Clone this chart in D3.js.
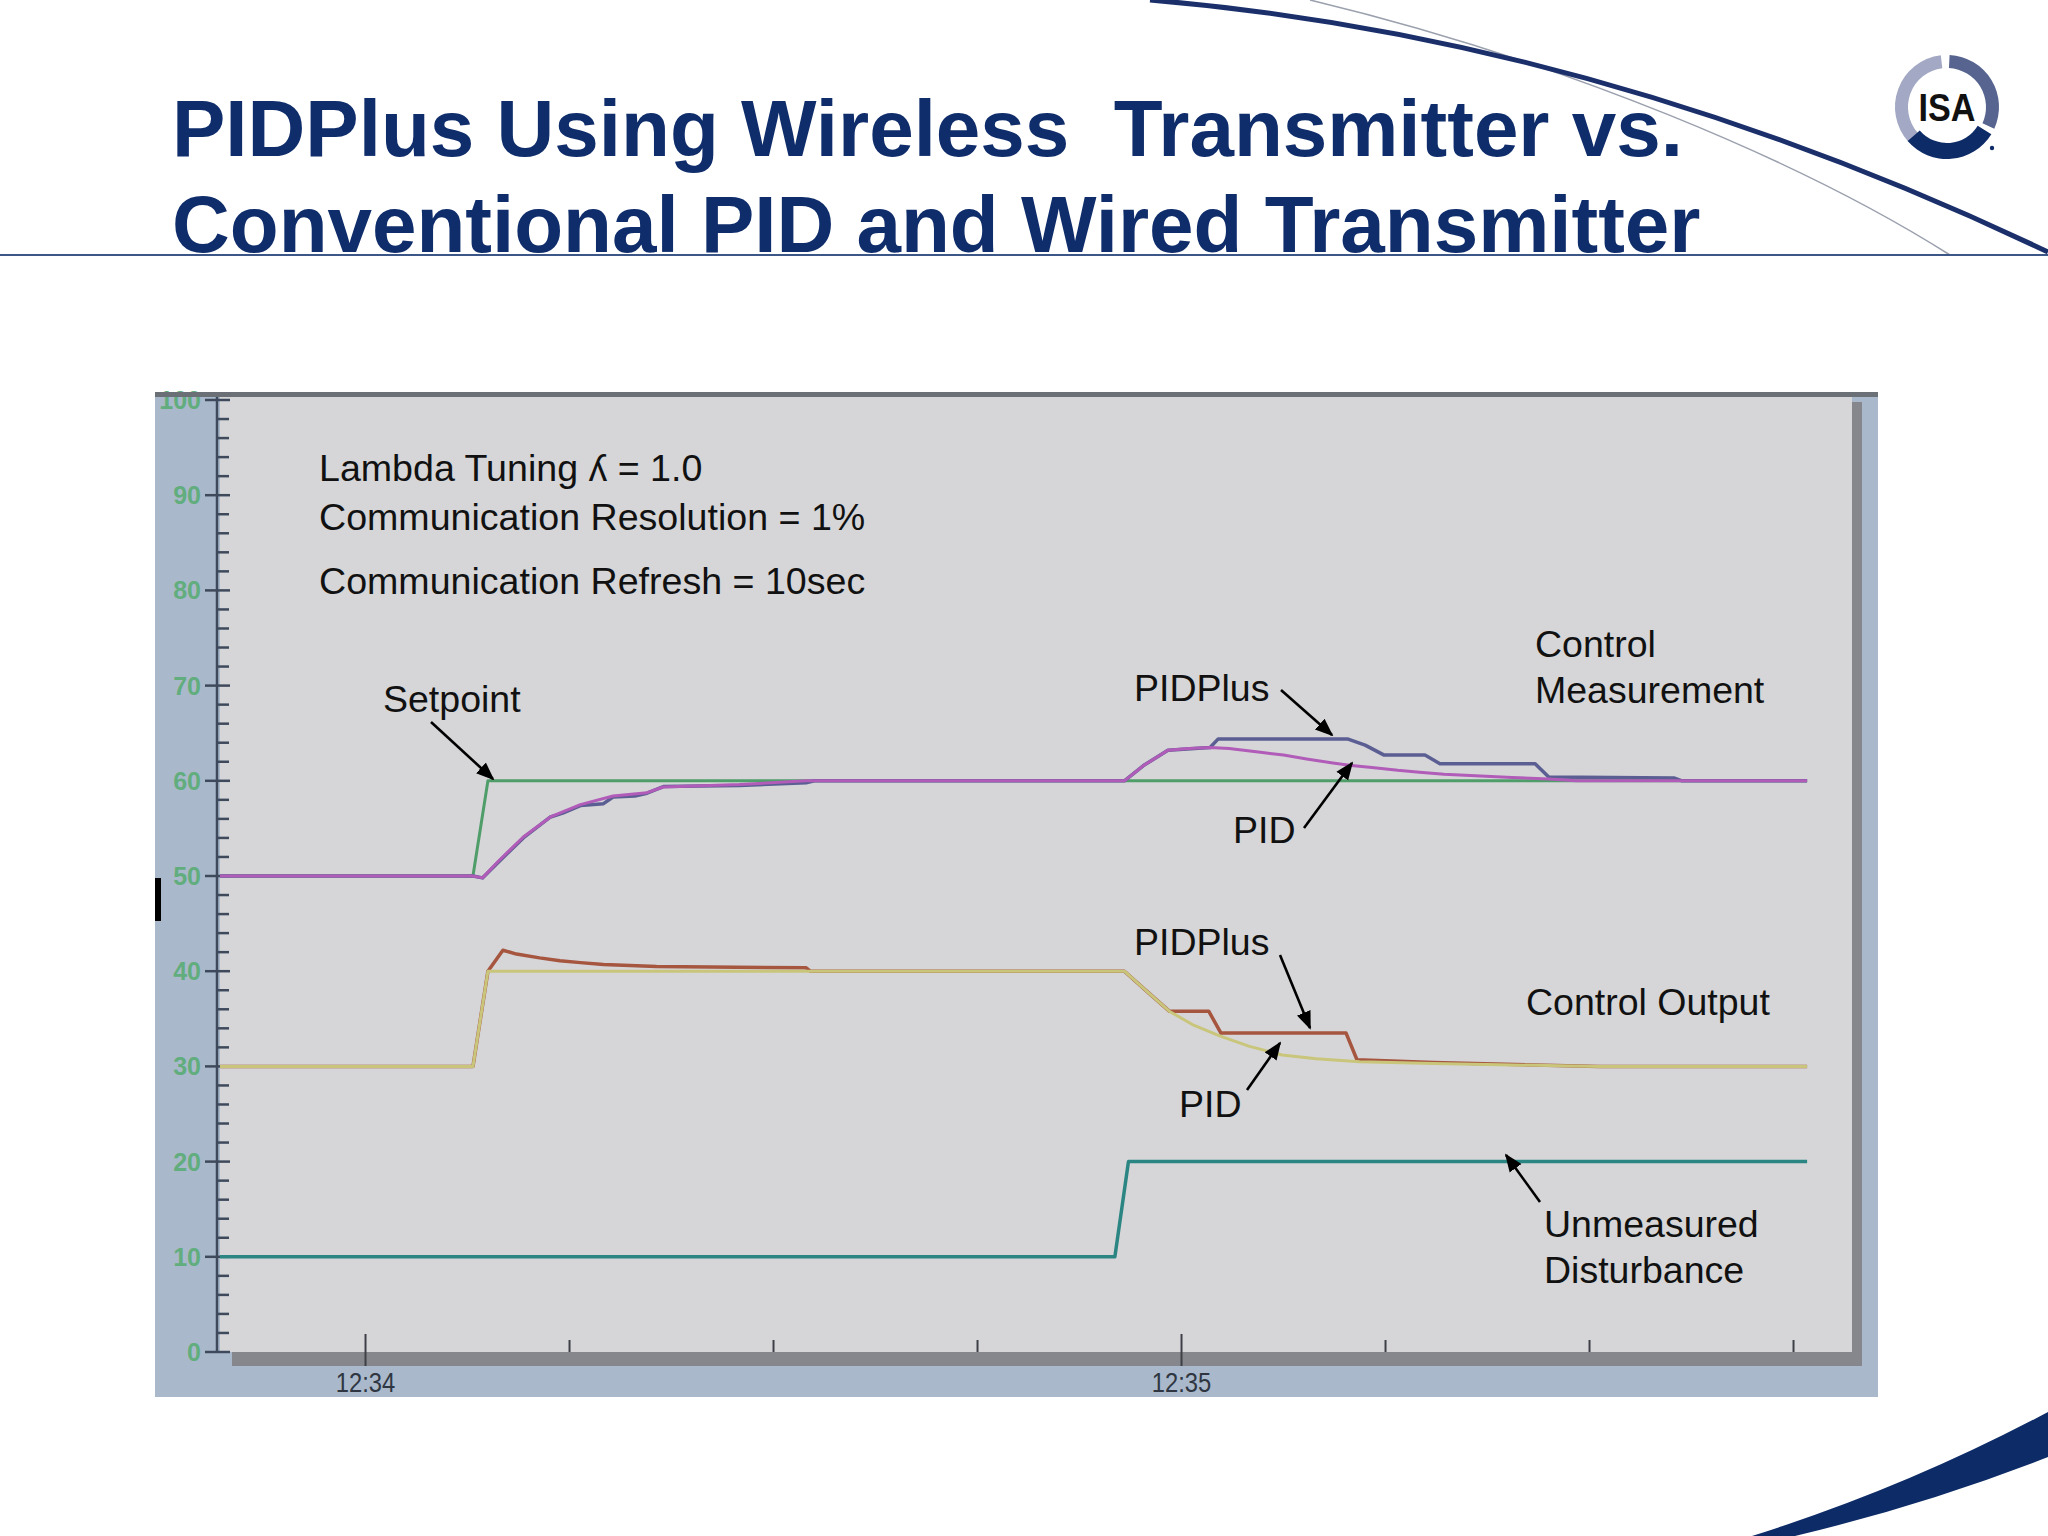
<!DOCTYPE html>
<html><head><meta charset="utf-8">
<script src="https://cdn.jsdelivr.net/npm/d3@7"></script>
<style>html,body{margin:0;padding:0;background:#fff;}svg{display:block;}</style>
</head><body>
<svg id="c" width="2048" height="1536"></svg>
<script>
// ---- data (time in seconds after 12:34:00, values in %) ----
const setpointT = [-10.7, 7.9, 9.0, 106];
const setpointV = [50, 50, 60, 60];

const pvPidT = [-10.7, 7.9, 8.6, 9.8, 11.6, 13.6, 15.8, 18.2, 20.7, 21.9, 27.5, 32.4, 55.8, 57.2, 59.0, 60.5, 62.1, 63.5, 65.8, 67.5, 69.2, 71.0, 72.5, 74.0, 75.9, 77.5, 79.3, 82.0, 84.3, 87.0, 89.0, 106];
const pvPidV = [50, 50, 49.8, 51.6, 54.1, 56.2, 57.5, 58.4, 58.75, 59.35, 59.6, 60, 60, 61.6, 63.2, 63.4, 63.5, 63.4, 63.0, 62.7, 62.3, 61.9, 61.6, 61.4, 61.1, 60.9, 60.7, 60.5, 60.35, 60.2, 60, 60];

const pvPlusT = [-10.7, 7.9, 8.6, 9.8, 11.6, 13.6, 14.5, 15.8, 17.5, 18.2, 19.8, 20.7, 21.9, 27.5, 32.4, 33.0, 55.8, 57.2, 59.0, 62.1, 62.7, 72.2, 73.5, 74.9, 77.9, 79.0, 86.0, 87.0, 96.2, 96.8, 106];
const pvPlusV = [50, 50, 49.8, 51.5, 54.0, 56.2, 56.6, 57.4, 57.6, 58.3, 58.4, 58.7, 59.4, 59.5, 59.8, 60, 60, 61.6, 63.2, 63.5, 64.4, 64.4, 63.75, 62.7, 62.7, 61.8, 61.8, 60.4, 60.3, 60, 60];

const opPidT = [-10.7, 7.9, 9.0, 55.8, 57.6, 59.1, 60.8, 62.8, 65.0, 67.4, 69.9, 73.1, 78.5, 90.7, 106];
const opPidV = [30, 30, 40, 40, 37.7, 35.8, 34.4, 33.2, 32.1, 31.2, 30.8, 30.5, 30.3, 30, 30];

const opPlusT = [-10.7, 7.9, 9.0, 10.1, 11.1, 12.8, 14.3, 15.8, 17.5, 21.4, 32.4, 32.7, 55.8, 57.6, 59.1, 62.0, 62.9, 72.1, 72.9, 78.5, 90.7, 106];
const opPlusV = [30, 30, 40, 42.2, 41.8, 41.4, 41.1, 40.9, 40.7, 40.5, 40.35, 40, 40, 37.7, 35.8, 35.8, 33.5, 33.5, 30.7, 30.4, 30, 30];

const distT = [-10.7, 55.1, 56.1, 106];
const distV = [10, 10, 20, 20];

const yTickValues = [0, 10, 20, 30, 40, 50, 60, 70, 80, 90, 100];
const xTickSeconds = [0, 15, 30, 45, 60, 75, 90, 105];
const xTickLabels = {0: "12:34", 60: "12:35"};

const titleLines = ["PIDPlus Using Wireless  Transmitter vs.", "Conventional PID and Wired Transmitter"];
const infoLines = ["Lambda Tuning \u028E = 1.0", "Communication Resolution = 1%", "Communication Refresh = 10sec"];

// ---- drawing ----
const svg = d3.select("#c");
const W = 2048, H = 1536;
const plot = {x0: 220, x1: 1852, y0: 397, y1: 1352};
const x = d3.scaleLinear().domain([-10.7, 109.3]).range([plot.x0, plot.x1]);
const y = d3.scaleLinear().domain([0, 100]).range([1352, 400]);

svg.append("rect").attr("width", W).attr("height", H).attr("fill", "#ffffff");

// decorative swooshes
svg.append("path").attr("d", "M1310,0 C1560,60 1800,160 1950,255").attr("fill", "none").attr("stroke", "#9aa0ad").attr("stroke-width", 1.5);
svg.append("path").attr("d", "M1150,0 C1450,25 1750,110 2048,252").attr("fill", "none").attr("stroke", "#1b2f6b").attr("stroke-width", 5);
svg.append("line").attr("x1", 0).attr("x2", W).attr("y1", 255).attr("y2", 255).attr("stroke", "#3d5688").attr("stroke-width", 2);
svg.append("path").attr("d", "M1752,1536 Q1905,1488 2048,1412 L2048,1457 Q1925,1505 1795,1536 Z").attr("fill", "#0d2b66");

// ISA logo
const logo = svg.append("g").attr("transform", "translate(1947,107)");
const arc = d3.arc();
logo.append("path").attr("d", arc({innerRadius: 39, outerRadius: 52, startAngle: -2.3, endAngle: -0.12})).attr("fill", "#a3a9c4");
logo.append("path").attr("d", arc({innerRadius: 39, outerRadius: 52, startAngle: 0.05, endAngle: 2.0})).attr("fill", "#56648f");
logo.append("path").attr("d", arc({innerRadius: 36, outerRadius: 52, startAngle: 2.12, endAngle: 4.0})).attr("fill", "#0d2b66");
logo.append("text").attr("x", 0).attr("y", 14).attr("text-anchor", "middle")
  .attr("font-family", "Liberation Sans, Arial, sans-serif").attr("font-weight", "bold").attr("font-size", 38)
  .attr("fill", "#111").attr("transform", "scale(0.9,1)").text("ISA");
logo.append("circle").attr("cx", 45).attr("cy", 41).attr("r", 2.2).attr("fill", "#0d2b66");

// title
svg.append("g").selectAll("text").data(titleLines).join("text")
  .attr("x", 172).attr("y", (d, i) => 156 + i * 96)
  .attr("font-family", "Liberation Sans, Arial, sans-serif").attr("font-weight", "bold").attr("font-size", 80)
  .attr("fill", "#0f2d6b").attr("xml:space", "preserve").style("white-space", "pre").text(d => d);

// panel
svg.append("rect").attr("x", 155).attr("y", 392).attr("width", 1878 - 155).attr("height", 1397 - 392).attr("fill", "#a9b9cb");
svg.append("rect").attr("x", 232).attr("y", 1352).attr("width", 1862 - 232).attr("height", 14).attr("fill", "#85878c");
svg.append("rect").attr("x", 1852).attr("y", 402).attr("width", 10).attr("height", 1366 - 402).attr("fill", "#85878c");
svg.append("rect").attr("x", plot.x0).attr("y", plot.y0).attr("width", plot.x1 - plot.x0).attr("height", plot.y1 - plot.y0).attr("fill", "#d6d6d8");
svg.append("rect").attr("x", 155).attr("y", 878).attr("width", 6).attr("height", 43).attr("fill", "#000");

// y axis
const yAxisG = svg.append("g").attr("transform", "translate(217,0)");
yAxisG.append("line").attr("x1", 0).attr("x2", 0).attr("y1", 397).attr("y2", 1352).attr("stroke", "#3e4a5c").attr("stroke-width", 2.5);
const minorY = d3.range(0, 101, 2).filter(v => v % 10 !== 0);
yAxisG.selectAll("line.minor").data(minorY).join("line").attr("class", "minor")
  .attr("x1", 1).attr("x2", 12).attr("y1", d => y(d)).attr("y2", d => y(d)).attr("stroke", "#3e4a5c").attr("stroke-width", 2.5);
yAxisG.selectAll("line.major").data(yTickValues).join("line").attr("class", "major")
  .attr("x1", -12).attr("x2", 13).attr("y1", d => y(d)).attr("y2", d => y(d)).attr("stroke", "#3e4a5c").attr("stroke-width", 2.5);
yAxisG.selectAll("text").data(yTickValues).join("text")
  .attr("x", -16).attr("y", d => y(d) + 9).attr("text-anchor", "end")
  .attr("font-family", "Liberation Sans, Arial, sans-serif").attr("font-size", 25).attr("font-weight", "bold")
  .attr("fill", "#62ad7e").text(d => d);

// x axis
const xAxisG = svg.append("g");
xAxisG.selectAll("line").data(xTickSeconds).join("line")
  .attr("x1", d => x(d)).attr("x2", d => x(d))
  .attr("y1", d => (d % 60 === 0 ? 1334 : 1340)).attr("y2", d => (d % 60 === 0 ? 1366 : 1352))
  .attr("stroke", "#3e4048").attr("stroke-width", 2);
xAxisG.selectAll("text").data(xTickSeconds.filter(d => xTickLabels[d])).join("text")
  .attr("transform", d => `translate(${x(d)},1392) scale(0.85,1)`).attr("text-anchor", "middle")
  .attr("font-family", "Liberation Sans, Arial, sans-serif").attr("font-size", 28)
  .attr("fill", "#2f3642").text(d => xTickLabels[d]);

// top border over the panel
svg.append("rect").attr("x", 155).attr("y", 392).attr("width", 1878 - 155).attr("height", 5).attr("fill", "#6b6f76");

// series
const line = d3.line().x(d => x(d[0])).y(d => y(d[1]));
const zip = (a, b) => a.map((t, i) => [t, b[i]]);
const series = [
  {t: distT, v: distV, c: "#2b8683", w: 3.5},
  {t: opPlusT, v: opPlusV, c: "#a6553f", w: 3.5},
  {t: opPidT, v: opPidV, c: "#c9c67c", w: 3},
  {t: setpointT, v: setpointV, c: "#4f9d69", w: 3},
  {t: pvPlusT, v: pvPlusV, c: "#5b5e93", w: 3.5},
  {t: pvPidT, v: pvPidV, c: "#b05cb8", w: 3}
];
svg.append("g").selectAll("path").data(series).join("path")
  .attr("d", d => line(zip(d.t, d.v))).attr("fill", "none")
  .attr("stroke", d => d.c).attr("stroke-width", d => d.w).attr("stroke-linejoin", "round");

// annotations
const font = "Liberation Sans, Arial, sans-serif";
svg.append("g").selectAll("text").data(infoLines).join("text")
  .attr("x", 319).attr("y", (d, i) => [481, 530, 594][i])
  .attr("font-family", font).attr("font-size", 37.6).attr("fill", "#111").text(d => d);

const labels = [
  {s: "Setpoint", x: 383, y: 712},
  {s: "PIDPlus", x: 1134, y: 701},
  {s: "PID", x: 1233, y: 843},
  {s: "Control", x: 1535, y: 657},
  {s: "Measurement", x: 1535, y: 703},
  {s: "PIDPlus", x: 1134, y: 955},
  {s: "PID", x: 1179, y: 1117},
  {s: "Control Output", x: 1526, y: 1015},
  {s: "Unmeasured", x: 1544, y: 1237},
  {s: "Disturbance", x: 1544, y: 1283}
];
svg.append("g").selectAll("text").data(labels).join("text")
  .attr("x", d => d.x).attr("y", d => d.y)
  .attr("font-family", font).attr("font-size", 37.5).attr("fill", "#111").text(d => d.s);

svg.append("defs").append("marker").attr("id", "ah").attr("viewBox", "0 0 10 10")
  .attr("refX", 9).attr("refY", 5).attr("markerWidth", 7).attr("markerHeight", 7)
  .attr("markerUnits", "strokeWidth").attr("orient", "auto")
  .append("path").attr("d", "M0,1 L10,5 L0,9 Z").attr("fill", "#000");
const arrows = [
  [431, 722, 493, 779],
  [1281, 690, 1332, 735],
  [1304, 828, 1352, 763],
  [1280, 955, 1310, 1028],
  [1247, 1090, 1280, 1043],
  [1540, 1202, 1506, 1155]
];
svg.append("g").selectAll("line").data(arrows).join("line")
  .attr("x1", d => d[0]).attr("y1", d => d[1]).attr("x2", d => d[2]).attr("y2", d => d[3])
  .attr("stroke", "#000").attr("stroke-width", 2.6).attr("marker-end", "url(#ah)");
</script>
</body></html>
